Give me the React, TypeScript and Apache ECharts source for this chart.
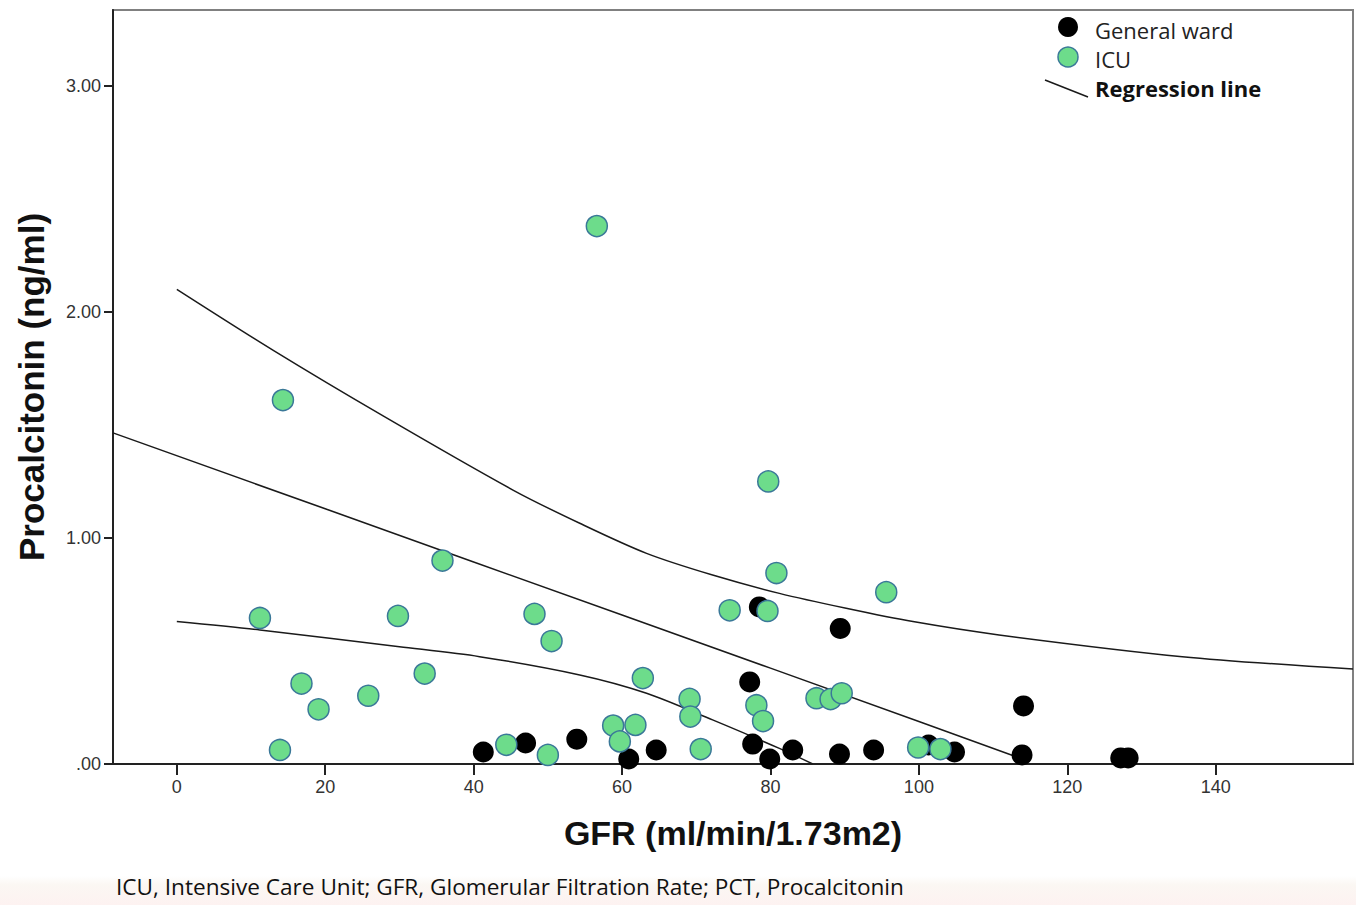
import React, { useEffect, useRef } from "react";
import * as echarts from "echarts";

// General ward patients: [GFR, PCT]
const generalWard: [number, number][] = [
  [78.5, 0.695], [89.4, 0.6], [77.2, 0.363], [114.1, 0.257],
  [41.3, 0.053], [47.0, 0.093], [53.9, 0.11], [60.9, 0.022],
  [64.6, 0.062], [77.6, 0.088], [79.9, 0.022], [83.0, 0.062],
  [89.3, 0.044], [93.9, 0.062], [101.3, 0.084], [104.8, 0.053],
  [113.9, 0.04], [127.2, 0.027], [128.2, 0.027],
];

// ICU patients: [GFR, PCT]
const icu: [number, number][] = [
  [56.6, 2.38], [14.3, 1.61], [79.7, 1.25], [80.8, 0.845], [95.6, 0.76],
  [35.8, 0.9], [11.2, 0.646], [29.8, 0.655], [48.2, 0.664], [50.5, 0.544],
  [74.5, 0.68], [79.6, 0.677], [33.4, 0.4], [16.8, 0.356], [25.8, 0.302],
  [19.1, 0.242], [13.9, 0.062], [62.8, 0.38], [69.1, 0.288], [69.2, 0.21],
  [78.1, 0.26], [79.0, 0.19], [86.2, 0.291], [88.1, 0.287], [89.6, 0.313],
  [58.8, 0.17], [61.8, 0.173], [59.7, 0.1], [44.4, 0.085], [50.0, 0.04],
  [70.6, 0.066], [99.9, 0.073], [102.9, 0.066],
];

// Regression line and its bounds: [GFR, PCT]
const regressionLine: [number, number][] = [
  [-8.6, 1.465], [20, 1.129], [40, 0.894], [60, 0.659], [80, 0.424], [100, 0.188], [113.3, 0.03],
];
const upperBound: [number, number][] = [
  [0, 2.1], [13, 1.83], [27.8, 1.54], [45.3, 1.212], [54.3, 1.065], [63.3, 0.932],
  [72.2, 0.836], [81.2, 0.755], [90.2, 0.689], [99.2, 0.63], [110.8, 0.571],
  [135.5, 0.475], [158.5, 0.42],
];
const lowerBound: [number, number][] = [
  [0, 0.63], [11.2, 0.593], [30, 0.519], [40.8, 0.475], [54.3, 0.394], [63.3, 0.313],
  [72.2, 0.195], [81.2, 0.069], [85.7, 0.0],
];

const xTicks = [0, 20, 40, 60, 80, 100, 120, 140];
const yTicks = [0, 1, 2, 3];
const yTickLabels = [".00", "1.00", "2.00", "3.00"];

const legendNames = ["General ward", "ICU", "Regression line"];
const caption = "ICU, Intensive Care Unit; GFR, Glomerular Filtration Rate; PCT, Procalcitonin";

const GREEN = "#6ddc8b";
const GREEN_BORDER = "#3a7898";

export default function App() {
  const ref = useRef<HTMLDivElement>(null);
  useEffect(() => {
    if (!ref.current) return;
    const chart = echarts.init(ref.current, null, { renderer: "svg" });
    const lineStyle = { color: "#1a1a1a", width: 1.5 };
    chart.setOption({
      animation: false,
      backgroundColor: "#ffffff",
      grid: {
        left: 113,
        top: 10,
        right: 3,
        bottom: 141,
        show: true,
        borderColor: "#808080",
        borderWidth: 2,
        backgroundColor: "transparent",
      },
      xAxis: {
        type: "value",
        min: -8.6,
        max: 158.5,
        name: "GFR (ml/min/1.73m2)",
        nameLocation: "middle",
        nameGap: 52,
        nameTextStyle: { fontFamily: "Liberation Sans, Arial", fontWeight: "bold", fontSize: 34, color: "#111" },
        splitLine: { show: false },
        axisLine: { show: true, onZero: false, lineStyle: { color: "#222", width: 2 } },
        axisTick: { show: true, customValues: xTicks, length: 11, lineStyle: { color: "#222", width: 2 } },
        axisLabel: {
          customValues: xTicks,
          margin: 14,
          fontFamily: "Liberation Sans, Arial",
          fontSize: 18,
          color: "#333",
        },
      },
      yAxis: {
        type: "value",
        min: 0,
        max: 3.336,
        name: "Procalcitonin (ng/ml)",
        nameLocation: "middle",
        nameGap: 64,
        nameTextStyle: { fontFamily: "Liberation Sans, Arial", fontWeight: "bold", fontSize: 35, color: "#111" },
        splitLine: { show: false },
        axisLine: { show: true, onZero: false, lineStyle: { color: "#222", width: 2 } },
        axisTick: { show: true, customValues: yTicks, length: 9, lineStyle: { color: "#222", width: 2 } },
        axisLabel: {
          customValues: yTicks,
          margin: 12,
          fontFamily: "Liberation Sans, Arial",
          fontSize: 18,
          color: "#333",
          formatter: (v: number) => yTickLabels[yTicks.indexOf(Math.round(v))] ?? "",
        },
      },
      series: [
        {
          name: "Upper bound",
          type: "line",
          data: upperBound,
          smooth: 0.3,
          symbol: "none",
          lineStyle,
          z: 1,
        },
        {
          name: "Regression line",
          type: "line",
          data: regressionLine,
          symbol: "none",
          lineStyle,
          z: 1,
        },
        {
          name: "Lower bound",
          type: "line",
          data: lowerBound,
          smooth: 0.3,
          symbol: "none",
          lineStyle,
          z: 1,
        },
        {
          name: legendNames[0],
          type: "scatter",
          data: generalWard,
          symbolSize: 21,
          itemStyle: { color: "#000000", opacity: 1 },
          z: 3,
        },
        {
          name: legendNames[1],
          type: "scatter",
          data: icu,
          symbolSize: 21,
          itemStyle: { color: GREEN, borderColor: GREEN_BORDER, borderWidth: 1.5, opacity: 1 },
          z: 4,
        },
      ],
      graphic: [
        {
          type: "rect",
          z: -10,
          silent: true,
          shape: { x: 0, y: 876, width: 1356, height: 29 },
          style: {
            fill: new echarts.graphic.LinearGradient(0, 0, 0, 1, [
              { offset: 0, color: "#ffffff" },
              { offset: 0.3, color: "#fbf7f3" },
              { offset: 1, color: "#fdf2f1" },
            ]),
          },
        },
        {
          type: "text",
          left: 116,
          top: 875,
          style: {
            text: caption,
            fontFamily: "Open Sans",
            fontSize: 22.6,
            fill: "#111",
          },
        },
        {
          type: "circle",
          shape: { cx: 1068, cy: 27, r: 10 },
          style: { fill: "#000" },
          z: 10,
        },
        {
          type: "circle",
          shape: { cx: 1068, cy: 57, r: 10 },
          style: { fill: GREEN, stroke: GREEN_BORDER, lineWidth: 1.5 },
          z: 10,
        },
        {
          type: "line",
          shape: { x1: 1045, y1: 80, x2: 1088, y2: 97 },
          style: { stroke: "#1a1a1a", lineWidth: 1.5 },
          z: 10,
        },
        {
          type: "text",
          x: 1095,
          y: 30,
          style: { text: legendNames[0], fontFamily: "Open Sans", fontSize: 22, fill: "#222", verticalAlign: "middle" },
          z: 10,
        },
        {
          type: "text",
          x: 1095,
          y: 59,
          style: { text: legendNames[1], fontFamily: "Open Sans", fontSize: 22, fill: "#222", verticalAlign: "middle" },
          z: 10,
        },
        {
          type: "text",
          x: 1095,
          y: 88,
          style: { text: legendNames[2], fontFamily: "Open Sans", fontWeight: 700, fontSize: 22, fill: "#111", verticalAlign: "middle" },
          z: 10,
        },
      ],
    });
    return () => chart.dispose();
  }, []);
  return (
    <div
      ref={ref}
      style={{ position: "absolute", left: 0, top: 0, width: 1356, height: 905 }}
    />
  );
}
